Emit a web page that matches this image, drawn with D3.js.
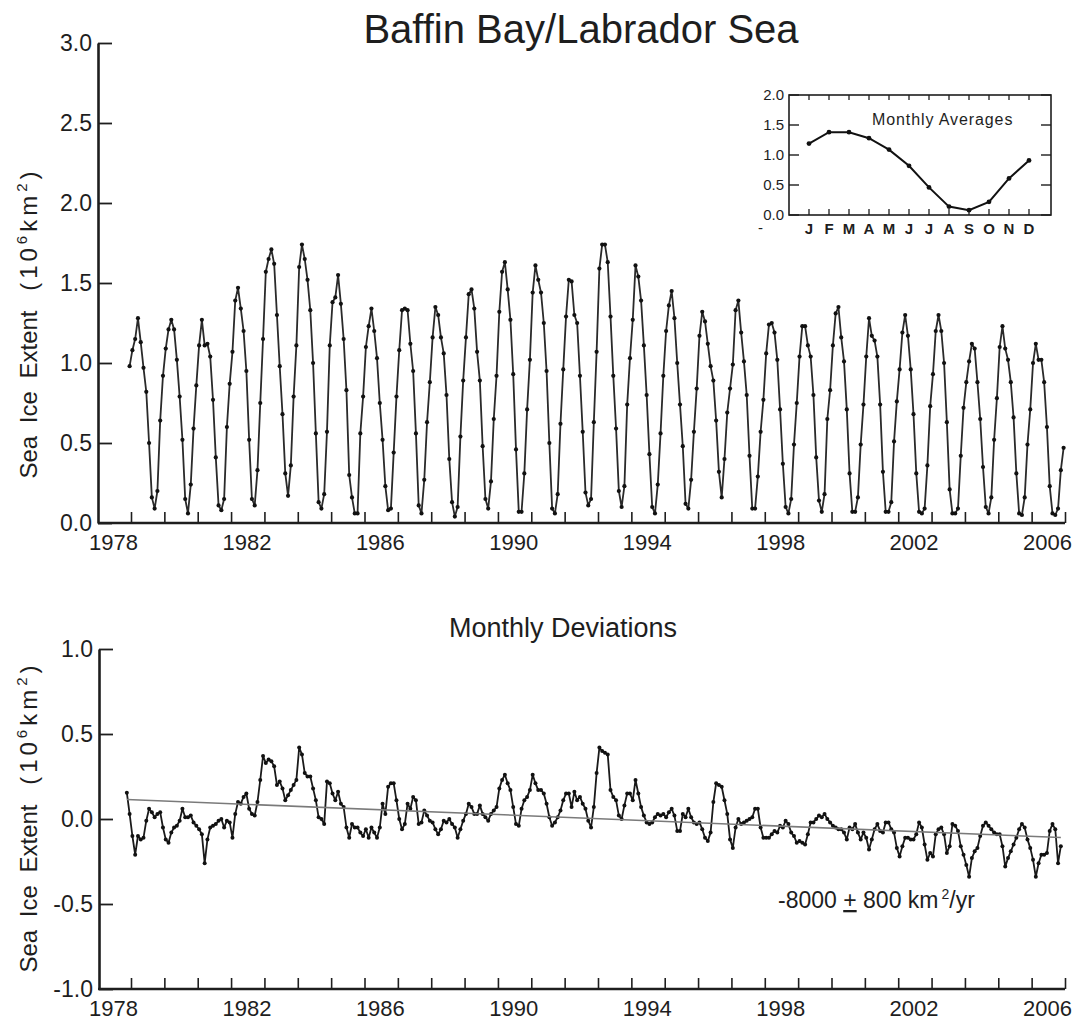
<!DOCTYPE html>
<html>
<head>
<meta charset="utf-8">
<script src="https://cdn.jsdelivr.net/npm/d3@7/dist/d3.min.js"></script>
<style>
  html, body { margin: 0; padding: 0; background: #fff; }
  svg { display: block; font-family: "Liberation Sans", Arial, Helvetica, sans-serif; }
  text { fill: #1e1e1e; }
</style>
</head>
<body>
<svg id="chart" width="1078" height="1021"></svg>
<script>
// Baffin Bay / Labrador Sea monthly sea ice extent (10^6 km^2)
const title = "Baffin Bay/Labrador Sea";
const yTitle = "Sea Ice Extent";
const yearTicks = d3.range(1978, 2007);
const yearLabels = [1978, 1982, 1986, 1990, 1994, 1998, 2002, 2006];
const extentTicks = [0, 0.5, 1, 1.5, 2, 2.5, 3];
const deviationTicks = [-1, -0.5, 0, 0.5, 1];

// monthly extent, first value December 1977, then Jan..Dec of each year
const extentStart = { year: 1977, month: 12 };
const extent = [
  0.98,
  /*1978*/ 1.08, 1.15, 1.28, 1.13, 0.97, 0.82, 0.50, 0.16, 0.09, 0.20, 0.64, 0.92,
  /*1979*/ 1.09, 1.21, 1.27, 1.21, 1.02, 0.79, 0.52, 0.15, 0.06, 0.24, 0.59, 0.86,
  /*1980*/ 1.11, 1.27, 1.11, 1.12, 1.04, 0.77, 0.41, 0.11, 0.08, 0.15, 0.60, 0.87,
  /*1981*/ 1.07, 1.39, 1.47, 1.34, 1.20, 0.95, 0.52, 0.15, 0.11, 0.33, 0.75, 1.15,
  /*1982*/ 1.57, 1.65, 1.71, 1.62, 1.30, 0.98, 0.68, 0.31, 0.17, 0.36, 0.79, 1.11,
  /*1983*/ 1.60, 1.74, 1.65, 1.52, 1.33, 1.00, 0.56, 0.13, 0.09, 0.18, 0.57, 1.11,
  /*1984*/ 1.38, 1.41, 1.55, 1.37, 1.15, 0.83, 0.30, 0.16, 0.06, 0.06, 0.56, 0.79,
  /*1985*/ 1.10, 1.23, 1.34, 1.20, 1.03, 0.75, 0.52, 0.23, 0.08, 0.09, 0.44, 0.79,
  /*1986*/ 1.08, 1.33, 1.34, 1.33, 1.12, 0.95, 0.56, 0.11, 0.06, 0.27, 0.63, 0.88,
  /*1987*/ 1.16, 1.35, 1.30, 1.16, 1.06, 0.80, 0.40, 0.13, 0.04, 0.10, 0.54, 0.89,
  /*1988*/ 1.16, 1.43, 1.46, 1.34, 1.07, 0.89, 0.48, 0.15, 0.09, 0.26, 0.65, 0.92,
  /*1989*/ 1.32, 1.57, 1.63, 1.46, 1.27, 0.93, 0.46, 0.07, 0.07, 0.31, 0.71, 1.02,
  /*1990*/ 1.44, 1.61, 1.52, 1.44, 1.25, 0.95, 0.50, 0.09, 0.06, 0.18, 0.62, 0.96,
  /*1991*/ 1.29, 1.52, 1.51, 1.30, 1.25, 0.92, 0.57, 0.19, 0.11, 0.15, 0.63, 1.07,
  /*1992*/ 1.59, 1.74, 1.74, 1.63, 1.29, 0.92, 0.59, 0.20, 0.10, 0.23, 0.74, 1.03,
  /*1993*/ 1.27, 1.61, 1.54, 1.39, 1.11, 0.80, 0.43, 0.10, 0.06, 0.24, 0.56, 0.92,
  /*1994*/ 1.20, 1.36, 1.45, 1.28, 1.00, 0.74, 0.48, 0.12, 0.09, 0.27, 0.57, 0.84,
  /*1995*/ 1.17, 1.32, 1.26, 1.12, 0.98, 0.89, 0.64, 0.32, 0.16, 0.40, 0.69, 0.84,
  /*1996*/ 0.99, 1.33, 1.39, 1.19, 1.01, 0.80, 0.42, 0.09, 0.09, 0.29, 0.57, 0.77,
  /*1997*/ 1.06, 1.24, 1.25, 1.19, 1.02, 0.71, 0.37, 0.10, 0.06, 0.15, 0.49, 0.75,
  /*1998*/ 1.04, 1.23, 1.23, 1.11, 1.04, 0.80, 0.41, 0.14, 0.07, 0.18, 0.65, 0.83,
  /*1999*/ 1.11, 1.31, 1.35, 1.16, 1.01, 0.71, 0.31, 0.07, 0.07, 0.16, 0.49, 0.74,
  /*2000*/ 1.04, 1.28, 1.17, 1.14, 1.04, 0.74, 0.32, 0.07, 0.07, 0.13, 0.51, 0.76,
  /*2001*/ 0.96, 1.19, 1.30, 1.17, 0.96, 0.68, 0.31, 0.07, 0.06, 0.09, 0.36, 0.73,
  /*2002*/ 0.93, 1.20, 1.30, 1.20, 1.00, 0.63, 0.21, 0.06, 0.06, 0.09, 0.42, 0.72,
  /*2003*/ 0.88, 1.01, 1.12, 1.09, 0.88, 0.65, 0.35, 0.10, 0.06, 0.16, 0.52, 0.78,
  /*2004*/ 1.10, 1.23, 1.09, 1.02, 0.88, 0.66, 0.31, 0.06, 0.05, 0.16, 0.49, 0.71,
  /*2005*/ 1.00, 1.12, 1.02, 1.02, 0.88, 0.60, 0.23, 0.06, 0.05, 0.09, 0.33, 0.47
];

// monthly deviations from the monthly averages, first value November 1977
const deviationStart = { year: 1977, month: 11 };
const deviations = [
  0.155, 0.03,
  /*1978*/ -0.10, -0.21, -0.10, -0.12, -0.11, -0.01, 0.06, 0.04, 0.01, 0.03, 0.04, -0.05,
  /*1979*/ -0.12, -0.14, -0.08, -0.05, -0.04, -0.01, 0.06, 0.01, 0.01, 0.02, -0.02, -0.04,
  /*1980*/ -0.06, -0.09, -0.26, -0.12, -0.05, -0.04, -0.03, -0.01, 0.00, -0.05, -0.01, -0.02,
  /*1981*/ -0.11, 0.03, 0.10, 0.09, 0.13, 0.15, 0.06, 0.03, 0.02, 0.10, 0.23, 0.37,
  /*1982*/ 0.33, 0.35, 0.34, 0.31, 0.20, 0.22, 0.18, 0.11, 0.14, 0.17, 0.20, 0.23,
  /*1983*/ 0.42, 0.38, 0.27, 0.25, 0.25, 0.18, 0.11, 0.01, 0.00, -0.03, 0.22, 0.21,
  /*1984*/ 0.15, 0.11, 0.16, 0.09, 0.07, -0.05, -0.11, -0.03, -0.05, -0.05, -0.08, -0.10,
  /*1985*/ -0.06, -0.11, -0.05, -0.08, -0.11, -0.05, 0.09, 0.03, 0.19, 0.21, 0.21, 0.11,
  /*1986*/ 0.00, -0.06, -0.03, 0.09, 0.06, 0.13, 0.11, -0.03, -0.02, 0.05, 0.02, -0.01,
  /*1987*/ -0.02, -0.06, -0.09, -0.06, -0.01, -0.02, 0.00, -0.03, -0.05, -0.11, -0.06, -0.01,
  /*1988*/ 0.03, 0.09, 0.07, 0.03, 0.03, 0.08, 0.03, 0.01, -0.01, 0.03, 0.05, 0.07,
  /*1989*/ 0.18, 0.23, 0.26, 0.21, 0.17, 0.07, -0.03, -0.04, 0.06, 0.11, 0.13, 0.17,
  /*1990*/ 0.26, 0.21, 0.17, 0.17, 0.15, 0.09, 0.01, -0.04, -0.02, 0.01, 0.05, 0.11,
  /*1991*/ 0.15, 0.15, 0.07, 0.16, 0.11, 0.13, 0.09, 0.06, -0.01, -0.05, 0.07, 0.27,
  /*1992*/ 0.42, 0.40, 0.39, 0.38, 0.17, 0.13, 0.11, 0.02, 0.00, 0.08, 0.15, 0.15,
  /*1993*/ 0.11, 0.23, 0.15, 0.07, 0.02, -0.02, -0.03, -0.02, 0.01, 0.03, 0.02, 0.03,
  /*1994*/ 0.01, 0.04, 0.06, 0.02, -0.07, -0.07, 0.03, 0.01, 0.06, 0.01, -0.02, -0.03,
  /*1995*/ -0.02, -0.06, -0.11, -0.13, -0.08, 0.10, 0.21, 0.20, 0.19, 0.11, 0.03, -0.12,
  /*1996*/ -0.17, -0.05, 0.00, -0.03, -0.02, -0.01, 0.00, 0.01, 0.06, 0.06, -0.05, -0.11,
  /*1997*/ -0.11, -0.11, -0.09, -0.07, -0.08, -0.04, -0.05, -0.01, -0.03, -0.08, -0.10, -0.14,
  /*1998*/ -0.13, -0.14, -0.15, -0.09, -0.02, -0.02, 0.00, 0.02, 0.01, 0.03, 0.00, -0.02,
  /*1999*/ -0.04, -0.05, -0.06, -0.06, -0.08, -0.12, -0.05, -0.06, -0.03, -0.08, -0.12, -0.08,
  /*2000*/ -0.11, -0.18, -0.12, -0.06, -0.03, -0.07, -0.08, -0.02, -0.02, -0.06, -0.08, -0.17,
  /*2001*/ -0.22, -0.16, -0.11, -0.11, -0.12, -0.12, -0.09, -0.02, -0.05, -0.15, -0.24, -0.20,
  /*2002*/ -0.22, -0.09, -0.06, -0.05, -0.09, -0.20, -0.16, -0.03, -0.04, -0.07, -0.16, -0.21,
  /*2003*/ -0.27, -0.34, -0.23, -0.19, -0.17, -0.10, -0.04, -0.02, -0.04, -0.06, -0.08, -0.09,
  /*2004*/ -0.09, -0.16, -0.28, -0.23, -0.19, -0.15, -0.11, -0.06, -0.03, -0.05, -0.12, -0.17,
  /*2005*/ -0.24, -0.34, -0.26, -0.21, -0.21, -0.20, -0.07, -0.03, -0.06, -0.26, -0.16
];

// linear trend of the deviations (km^2 per year) and its value at mid-record
const trendRate = -8000;
const trendRateError = 800;
const trendMidValue = 0.003;

// climatological monthly averages (inset)
const monthLetters = ["J", "F", "M", "A", "M", "J", "J", "A", "S", "O", "N", "D"];
const monthlyAverages = [1.19, 1.38, 1.38, 1.28, 1.09, 0.82, 0.46, 0.14, 0.08, 0.22, 0.61, 0.91];
const insetTicks = [0, 0.5, 1, 1.5, 2];

const svg = d3.select("#chart");
const ink = "#1e1e1e";

const toTime = (start, i) => start.year + (start.month - 1 + i + 0.5) / 12;
// one decimal, plain hyphen for negatives
const fmt1 = d => d3.format(".1f")(d).replace("\u2212", "-");

function yearAxis(g, x, yPos) {
  const axis = d3.axisBottom(x).tickValues(yearTicks)
    .tickSizeInner(-11).tickSizeOuter(0).tickPadding(11)
    .tickFormat(d => yearLabels.includes(d) ? String(d) : "");
  const a = g.append("g").attr("transform", `translate(0,${yPos})`).call(axis);
  a.select(".domain").attr("stroke", ink).attr("stroke-width", 2.6)
    .attr("d", `M${x.range()[0] - 33},0H${x.range()[1]}`);
  a.selectAll(".tick line").attr("stroke", ink).attr("stroke-width", 1.6);
  a.selectAll(".tick text").attr("fill", ink).attr("font-size", 22)
    .attr("dx", -18).attr("font-family", "Liberation Sans, Arial, sans-serif");
  return a;
}

function valueAxis(g, y, xPos, ticks) {
  const axis = d3.axisLeft(y).tickValues(ticks)
    .tickSizeInner(-14).tickSizeOuter(0).tickPadding(6)
    .tickFormat(fmt1);
  const a = g.append("g").attr("transform", `translate(${xPos},0)`).call(axis);
  a.select(".domain").attr("stroke", ink).attr("stroke-width", 2.6);
  a.selectAll(".tick line").attr("stroke", ink).attr("stroke-width", 1.8);
  a.selectAll(".tick text").attr("fill", ink).attr("font-size", 23)
    .attr("font-family", "Liberation Sans, Arial, sans-serif");
  return a;
}

function yAxisTitle(cx, cy) {
  const t = svg.append("text")
    .attr("transform", `translate(${cx},${cy}) rotate(-90)`)
    .attr("text-anchor", "middle")
    .attr("font-size", 24)
    .attr("fill", ink);
  t.append("tspan").attr("word-spacing", 6).text(yTitle + " ");
  const u = t.append("tspan").attr("dx", 7).attr("letter-spacing", 4);
  u.append("tspan").text("(10");
  u.append("tspan").attr("font-size", 15).attr("dy", -10).text("6");
  u.append("tspan").attr("dy", 10).text("km");
  u.append("tspan").attr("font-size", 15).attr("dy", -10).text("2");
  u.append("tspan").attr("dy", 10).text(")");
}

function series(g, x, y, start, values, opts) {
  const pts = values.map((v, i) => ({ t: toTime(start, i), v }));
  const line = d3.line().x(d => x(d.t)).y(d => y(d.v));
  g.append("path").datum(pts).attr("d", line)
    .attr("fill", "none").attr("stroke", opts.stroke).attr("stroke-width", opts.width)
    .attr("stroke-linejoin", "round");
  g.append("g").selectAll("circle").data(pts).join("circle")
    .attr("cx", d => x(d.t)).attr("cy", d => y(d.v)).attr("r", opts.r)
    .attr("fill", "#111");
  return pts;
}

// ---------- title ----------
svg.append("text").attr("x", 581).attr("y", 43).attr("text-anchor", "middle")
  .attr("font-size", 40).attr("fill", ink).text(title);

// ---------- top panel: monthly extent ----------
const xTop = d3.scaleLinear().domain([1978, 2006]).range([131, 1065]);
const yTop = d3.scaleLinear().domain([0, 3]).range([523, 43]);
const topPanel = svg.append("g");
series(topPanel, xTop, yTop, extentStart, extent, { stroke: "#2a2a2a", width: 1.8, r: 2.1 });
valueAxis(topPanel, yTop, 98, extentTicks);
yearAxis(topPanel, xTop, 523);
yAxisTitle(37, 323);

// ---------- inset: monthly averages ----------
const xIn = d3.scaleLinear().domain([0, 13.1]).range([789, 1051]);
const yIn = d3.scaleLinear().domain([0, 2]).range([215, 95]);
const inset = svg.append("g");
inset.append("rect").attr("x", xIn(0)).attr("y", yIn(2))
  .attr("width", xIn(13.1) - xIn(0)).attr("height", yIn(0) - yIn(2))
  .attr("fill", "none").attr("stroke", ink).attr("stroke-width", 1.6);
insetTicks.forEach(v => {
  inset.append("line").attr("x1", xIn(0)).attr("x2", xIn(0) + 10)
    .attr("y1", yIn(v)).attr("y2", yIn(v)).attr("stroke", ink).attr("stroke-width", 1.4);
  inset.append("line").attr("x1", xIn(13.1) - 10).attr("x2", xIn(13.1))
    .attr("y1", yIn(v)).attr("y2", yIn(v)).attr("stroke", ink).attr("stroke-width", 1.4);
  inset.append("text").attr("x", xIn(0) - 5).attr("y", yIn(v)).attr("dy", "0.36em")
    .attr("text-anchor", "end").attr("font-size", 15).attr("fill", "#333")
    .text(fmt1(v));
});
monthLetters.forEach((m, k) => {
  const mx = xIn(k + 1);
  inset.append("line").attr("x1", mx).attr("x2", mx).attr("y1", yIn(0)).attr("y2", yIn(0) - 6)
    .attr("stroke", ink).attr("stroke-width", 1.3);
  inset.append("line").attr("x1", mx).attr("x2", mx).attr("y1", yIn(2)).attr("y2", yIn(2) + 5)
    .attr("stroke", ink).attr("stroke-width", 1.3);
  inset.append("text").attr("x", mx).attr("y", 234).attr("text-anchor", "middle")
    .attr("font-size", 15).attr("font-weight", "bold").attr("fill", "#3a3a3a").text(m);
});
inset.append("text").attr("x", 758).attr("y", 233).attr("font-size", 15).attr("fill", "#333").text("-");
const avgPts = monthlyAverages.map((v, k) => ({ m: k + 1, v }));
inset.append("path").datum(avgPts)
  .attr("d", d3.line().x(d => xIn(d.m)).y(d => yIn(d.v)))
  .attr("fill", "none").attr("stroke", "#111").attr("stroke-width", 2);
inset.selectAll("circle.avg").data(avgPts).join("circle").attr("class", "avg")
  .attr("cx", d => xIn(d.m)).attr("cy", d => yIn(d.v)).attr("r", 2.4).attr("fill", "#111");
inset.append("text").attr("x", 872).attr("y", 125).attr("font-size", 16)
  .attr("letter-spacing", 0.9).attr("fill", "#333").text("Monthly Averages");

// ---------- bottom panel: monthly deviations ----------
const xBot = d3.scaleLinear().domain([1978, 2006]).range([131, 1065]);
const yBot = d3.scaleLinear().domain([-1, 1]).range([989, 649]);
const botPanel = svg.append("g");
svg.append("text").attr("x", 563).attr("y", 637).attr("text-anchor", "middle")
  .attr("font-size", 27).attr("fill", ink).text("Monthly Deviations");

const devPts = deviations.map((v, i) => ({ t: toTime(deviationStart, i), v }));
const tMid = (devPts[0].t + devPts[devPts.length - 1].t) / 2;
const trendAt = t => trendMidValue + (trendRate / 1e6) * (t - tMid);
const trendPts = [devPts[0].t, devPts[devPts.length - 1].t].map(t => ({ t, v: trendAt(t) }));

series(botPanel, xBot, yBot, deviationStart, deviations, { stroke: "#1a1a1a", width: 1.8, r: 2.0 });
botPanel.append("path").datum(trendPts)
  .attr("d", d3.line().x(d => xBot(d.t)).y(d => yBot(d.v)))
  .attr("stroke", "#7a7a7a").attr("stroke-width", 1.6).attr("fill", "none");
valueAxis(botPanel, yBot, 99, deviationTicks);
yearAxis(botPanel, xBot, 989);
yAxisTitle(37, 817);

// trend annotation
const tl = svg.append("text").attr("x", 778).attr("y", 908).attr("font-size", 23).attr("fill", "#2a2a2a");
tl.append("tspan").text(`${trendRate} `);
tl.append("tspan").attr("text-decoration", "underline").text("+");
tl.append("tspan").text(` ${trendRateError} km`);
tl.append("tspan").attr("font-size", 14).attr("dy", -9).attr("dx", 3).text("2");
tl.append("tspan").attr("dy", 9).text("/yr");
</script>
</body>
</html>
